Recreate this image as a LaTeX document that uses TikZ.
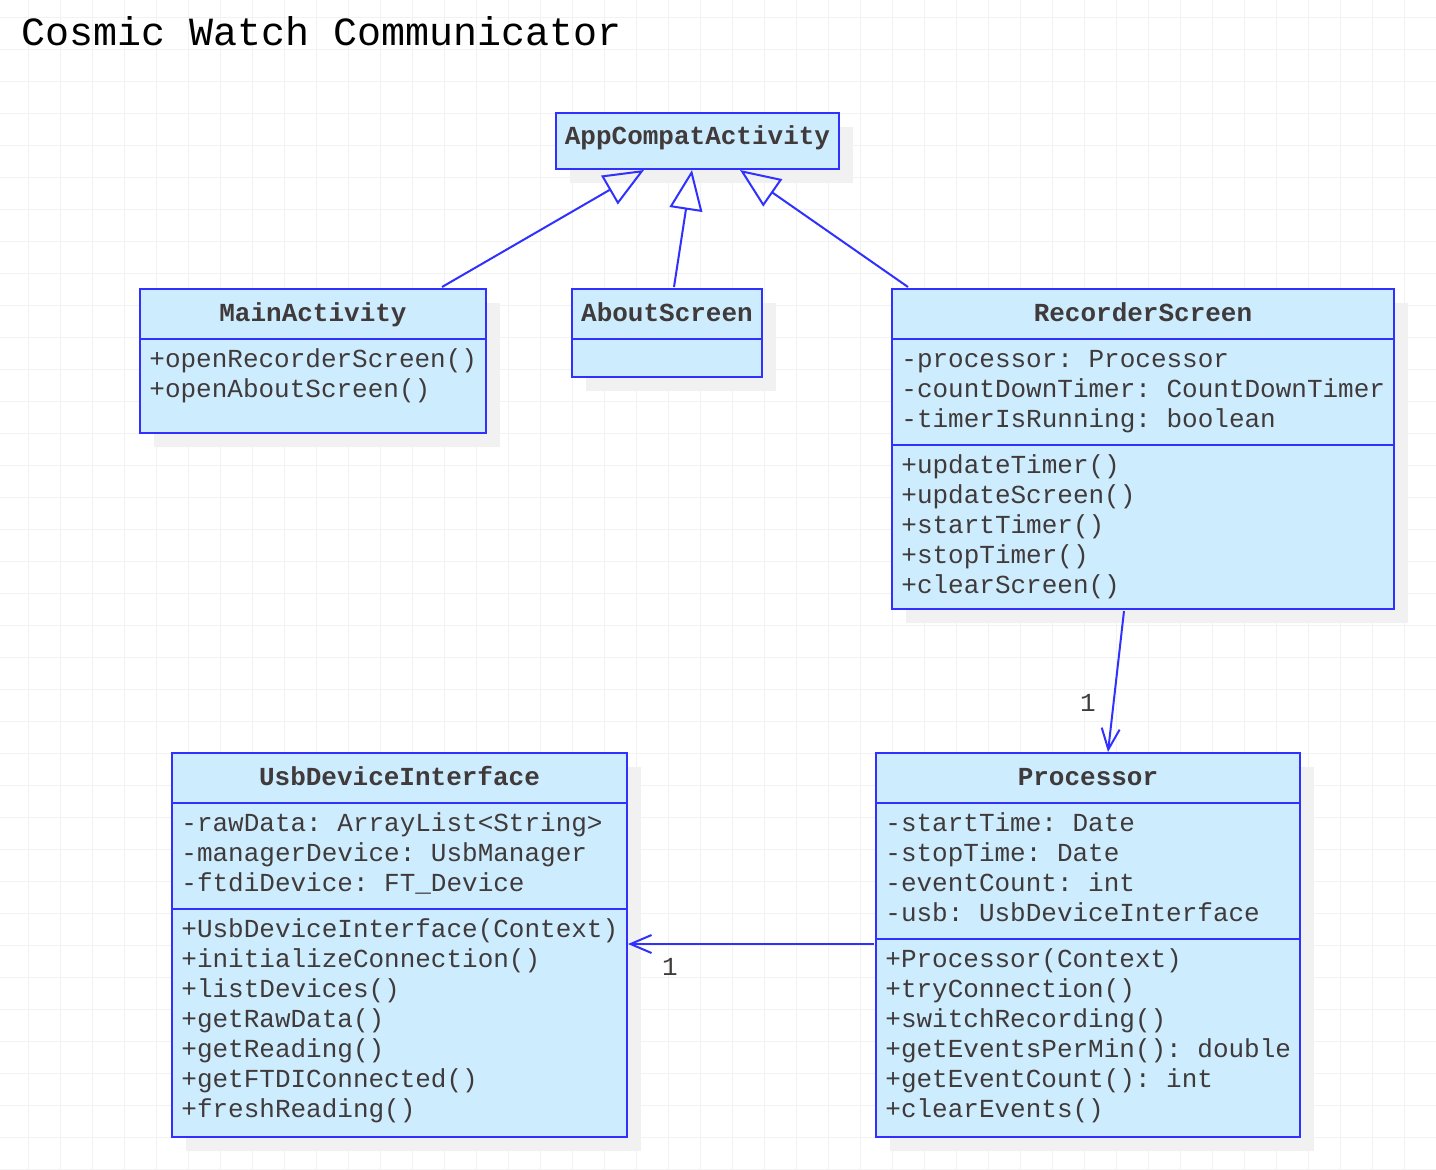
\documentclass[tikz,border=0pt]{standalone}
\usepackage{fontspec}
\usepackage{tikz}
\usetikzlibrary{arrows.meta}
\newfontfamily\umlfont{Liberation Mono}
\definecolor{umlblue}{RGB}{48,48,255}
\definecolor{umlfill}{RGB}{205,237,255}
\definecolor{umltext}{RGB}{64,58,58}
\definecolor{umlgrid}{RGB}{242,242,242}
\definecolor{umlshadow}{RGB}{241,241,241}

\begin{document}
\frenchspacing
\begin{tikzpicture} [x=0.5pt, y=-0.5pt,
  gridline/.style={draw=umlgrid, line width=0.5pt},
  boxshadow/.style={fill=umlshadow},
  classbox/.style={draw=umlblue, fill=umlfill, line width=1pt},
  divider/.style={draw=umlblue, line width=1pt},
  classname/.style={anchor=base, inner sep=0pt, text=umltext, font=\umlfont\bfseries\fontsize{13}{15}\selectfont},
  member/.style={anchor=base west, inner sep=0pt, text=umltext, font=\umlfont\fontsize{13}{15}\selectfont},
  mult/.style={anchor=base, inner sep=0pt, text=umltext, font=\umlfont\fontsize{13}{15}\selectfont},
  inherit/.style={draw=umlblue, line width=1pt, -{Triangle[open, length=20pt, width=16.5pt]}},
  assoc/.style={draw=umlblue, line width=1pt, -{Straight Barb[length=10.5pt, width=9pt]}}]

\useasboundingbox (0,0) rectangle (1436,1169);
\fill[white] (0,0) rectangle (1436,1169);

% grid
\foreach \gx in {0,...,43}
  \draw[gridline] (28.3+32*\gx,0) -- (28.3+32*\gx,1169);
\foreach \gy in {0,...,36}
  \draw[gridline] (0,17.3+32*\gy) -- (1436,17.3+32*\gy);

\node[anchor=base west, inner sep=0pt, font=\umlfont\fontsize{20}{24}\selectfont] (title) at (21,45) {Cosmic Watch Communicator};

% shadows
\fill[boxshadow] (570,127) rectangle (853,183);
\fill[boxshadow] (154,303) rectangle (500,447);
\fill[boxshadow] (586,303) rectangle (776,391);
\fill[boxshadow] (906,303) rectangle (1408,623);
\fill[boxshadow] (186,767) rectangle (641,1151);
\fill[boxshadow] (890,767) rectangle (1314,1151);

% AppCompatActivity
\draw[classbox] (556,113) rectangle (839,169);
\node[classname] (appName) at (697.5,144) {AppCompatActivity};

% MainActivity
\draw[classbox] (140,289) rectangle (486,433);
\draw[divider] (140,339) -- (486,339);
\node[classname] (mainName) at (313,321) {MainActivity};
\node[member] (mainM1) at (149,367) {+openRecorderScreen()};
\node[member] (mainM2) at (149,397) {+openAboutScreen()};

% AboutScreen
\draw[classbox] (572,289) rectangle (762,377);
\draw[divider] (572,339) -- (762,339);
\node[classname] (aboutName) at (667,321) {AboutScreen};

% RecorderScreen
\draw[classbox] (892,289) rectangle (1394,609);
\draw[divider] (892,339) -- (1394,339);
\draw[divider] (892,445) -- (1394,445);
\node[classname] (recName) at (1143,321) {RecorderScreen};
\node[member] (recA1) at (901,367) {-processor: Processor};
\node[member] (recA2) at (901,397) {-countDownTimer: CountDownTimer};
\node[member] (recA3) at (901,427) {-timerIsRunning: boolean};
\node[member] (recM1) at (901,473) {+updateTimer()};
\node[member] (recM2) at (901,503) {+updateScreen()};
\node[member] (recM3) at (901,533) {+startTimer()};
\node[member] (recM4) at (901,563) {+stopTimer()};
\node[member] (recM5) at (901,593) {+clearScreen()};

% UsbDeviceInterface
\draw[classbox] (172,753) rectangle (627,1137);
\draw[divider] (172,803) -- (627,803);
\draw[divider] (172,909) -- (627,909);
\node[classname] (usbName) at (399.5,785) {UsbDeviceInterface};
\node[member] (usbA1) at (181,831) {-rawData: ArrayList<String>};
\node[member] (usbA2) at (181,861) {-managerDevice: UsbManager};
\node[member] (usbA3) at (181,891) {-ftdiDevice: FT\_Device};
\node[member] (usbM1) at (181,937) {+UsbDeviceInterface(Context)};
\node[member] (usbM2) at (181,967) {+initializeConnection()};
\node[member] (usbM3) at (181,997) {+listDevices()};
\node[member] (usbM4) at (181,1027) {+getRawData()};
\node[member] (usbM5) at (181,1057) {+getReading()};
\node[member] (usbM6) at (181,1087) {+getFTDIConnected()};
\node[member] (usbM7) at (181,1117) {+freshReading()};

% Processor
\draw[classbox] (876,753) rectangle (1300,1137);
\draw[divider] (876,803) -- (1300,803);
\draw[divider] (876,939) -- (1300,939);
\node[classname] (procName) at (1088,785) {Processor};
\node[member] (procA1) at (885,831) {-startTime: Date};
\node[member] (procA2) at (885,861) {-stopTime: Date};
\node[member] (procA3) at (885,891) {-eventCount: int};
\node[member] (procA4) at (885,921) {-usb: UsbDeviceInterface};
\node[member] (procM1) at (885,967) {+Processor(Context)};
\node[member] (procM2) at (885,997) {+tryConnection()};
\node[member] (procM3) at (885,1027) {+switchRecording()};
\node[member] (procM4) at (885,1057) {+getEventsPerMin(): double};
\node[member] (procM5) at (885,1087) {+getEventCount(): int};
\node[member] (procM6) at (885,1117) {+clearEvents()};

% connector ends
\coordinate (mainTop) at (442,287);
\coordinate (aboutTop) at (674,287);
\coordinate (recTop) at (908,287);
\coordinate (appL) at (644,170);
\coordinate (appM) at (692,170);
\coordinate (appR) at (740,170);
\coordinate (recBot) at (1124,611);
\coordinate (procTop) at (1108,752);
\coordinate (procLeft) at (874,944);
\coordinate (usbRight) at (628,944);

\draw[inherit] (mainTop) -- (appL);
\draw[inherit] (aboutTop) -- (appM);
\draw[inherit] (recTop) -- (appR);
\draw[assoc] (recBot) -- (procTop);
\draw[assoc] (procLeft) -- (usbRight);

\node[mult] (multProc) at (1088,711) {1};
\node[mult] (multUsb) at (670,975) {1};

\end{tikzpicture}
\end{document}
